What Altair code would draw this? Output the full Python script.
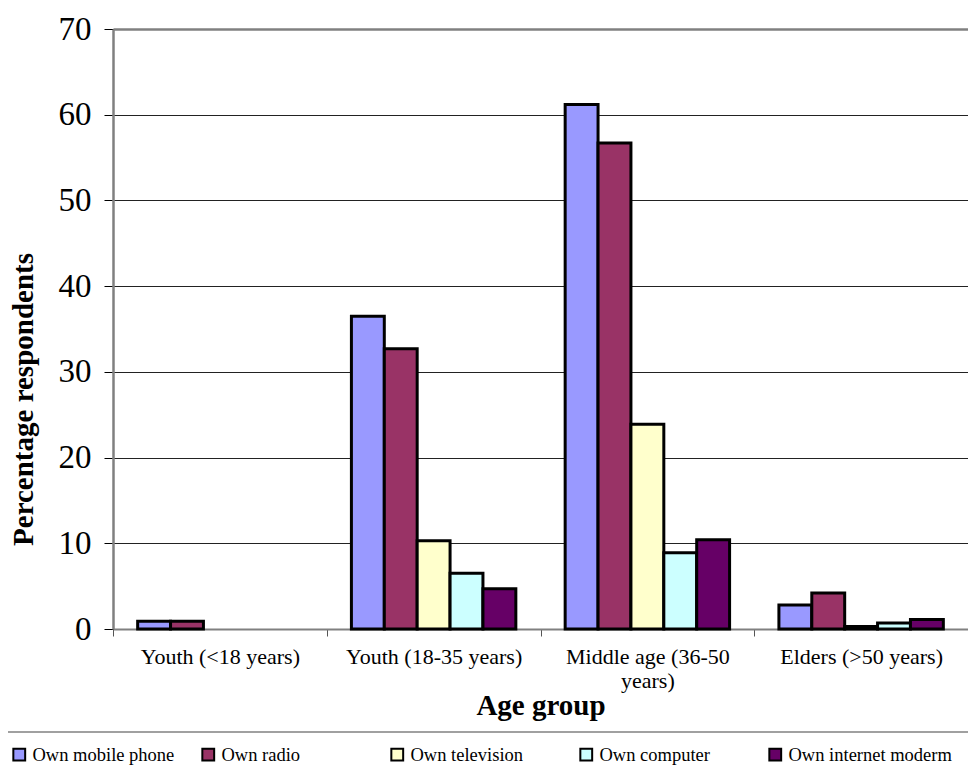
import altair as alt
import pandas as pd

categories = ["Youth (<18 years)", "Youth (18-35 years)", "Middle age (36-50 years)", "Elders (>50 years)"]
series = ["Own mobile phone", "Own radio", "Own television", "Own computer", "Own internet moderm"]
mobile = [0.9, 36.5, 61.2, 2.8]
radio = [0.9, 32.7, 56.7, 4.2]
television = [None, 10.3, 23.9, 0.3]
computer = [None, 6.5, 8.9, 0.7]
internet = [None, 4.7, 10.4, 1.1]
colors = ["#9999FF", "#993366", "#FFFFCC", "#CCFFFF", "#660066"]
y_ticks = [0, 10, 20, 30, 40, 50, 60, 70]

rows = []
for i, c in enumerate(categories):
    for s, vals in zip(series, [mobile, radio, television, computer, internet]):
        rows.append({"Age group": c, "Item": s, "Value": vals[i]})
df = pd.DataFrame(rows)

FONT = "Liberation Serif"
label_expr = ("datum.value == 'Middle age (36-50 years)' ? "
              "['Middle age (36-50', 'years)'] : datum.value")

bars = alt.Chart(df).mark_bar(stroke="black", strokeWidth=3, strokeJoin="miter").encode(
    x=alt.X("Age group:N", sort=categories,
            scale=alt.Scale(paddingInner=0, paddingOuter=0),
            axis=alt.Axis(title="Age group", labelAngle=0, labelExpr=label_expr,
                          labelFont=FONT, labelFontSize=22, labelColor="black",
                          labelPadding=10, labelLineHeight=24, labelLimit=400,
                          tickBand="extent", tickSize=7, tickColor="#555555",
                          domainColor="#808080", domainWidth=2,
                          titleFont=FONT, titleFontSize=29, titleFontWeight="bold",
                          titleColor="black", titleY=85, titleBaseline="alphabetic")),
    xOffset=alt.XOffset("Item:N", sort=series,
                        scale=alt.Scale(paddingInner=0, paddingOuter=0.75)),
    y=alt.Y("Value:Q", scale=alt.Scale(domain=[0, 70], nice=False),
            axis=alt.Axis(title="Percentage respondents", values=y_ticks,
                          labelFont=FONT, labelFontSize=33, labelColor="black",
                          labelPadding=13, tickSize=9, tickColor="black",
                          domainColor="#808080", domainWidth=2.5,
                          gridColor={"condition": {"test": "datum.value == 70", "value": "#808080"}, "value": "#222222"},
                          gridWidth={"condition": {"test": "datum.value == 70", "value": 2.5}, "value": 1},
                          titleFont=FONT, titleFontSize=29, titleFontWeight="bold",
                          titleColor="black", titleAngle=270, titleAlign="center",
                          titleBaseline="alphabetic", titleX=-81, titleY=370)),
    color=alt.Color("Item:N", sort=series,
                    scale=alt.Scale(domain=series, range=colors),
                    legend=alt.Legend(title=None, orient="none", legendX=-103, legendY=716,
                                      direction="horizontal", columns=5, columnPadding=2,
                                      gridAlign="all",
                                      symbolType="square", symbolSize=140,
                                      symbolStrokeColor="black", symbolStrokeWidth=2,
                                      symbolOpacity=1, labelFont=FONT, labelFontSize=18.5,
                                      labelColor="black", labelOffset=4, labelLimit=400)),
)

legend_line = alt.Chart(pd.DataFrame({"a": [0]})).mark_rule(color="#808080", strokeWidth=1.5).encode(
    x=alt.value(-105), x2=alt.value(855), y=alt.value(703)
)

chart = alt.layer(bars, legend_line).properties(
    width=855, height=600,
    autosize=alt.AutoSizeParams(type="none"),
    padding={"left": 105, "top": 21, "right": 0, "bottom": 140},
    background="white",
).configure_view(stroke=None)

chart.save("out.html", embed_options={"renderer": "svg", "actions": False})
